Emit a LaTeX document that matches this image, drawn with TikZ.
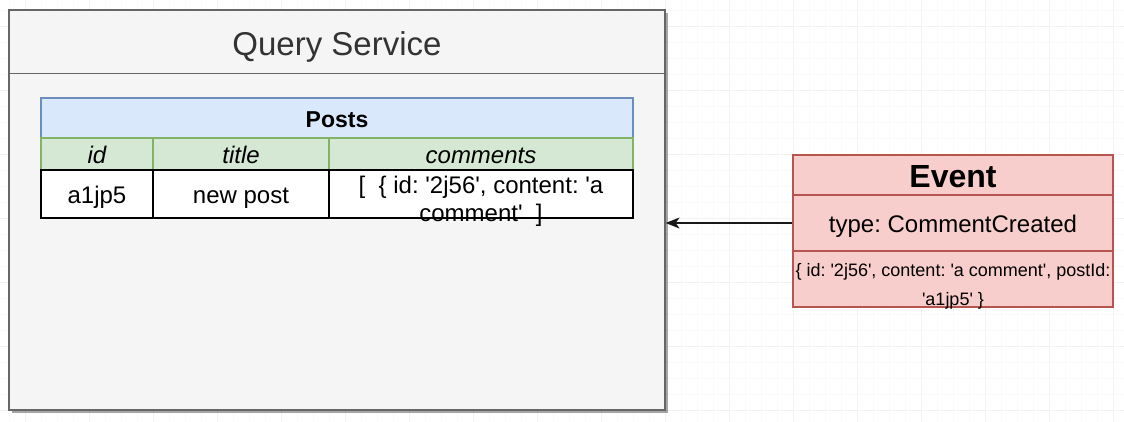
\documentclass[tikz,border=0pt]{standalone}
\usepackage{fontspec}
\setmainfont{Liberation Sans}[Ligatures=TeXOff]
\usetikzlibrary{arrows.meta,positioning,shadows}
\definecolor{svcfill}{HTML}{F5F5F5}
\definecolor{svcline}{HTML}{666666}
\definecolor{titlegray}{HTML}{333333}
\definecolor{headfill}{HTML}{DAE8FC}
\definecolor{headline}{HTML}{6C8EBF}
\definecolor{colfill}{HTML}{D5E8D4}
\definecolor{colline}{HTML}{82B366}
\definecolor{evtfill}{HTML}{F8CECC}
\definecolor{evtline}{HTML}{B85450}
\frenchspacing
\begin{document}
\begin{tikzpicture}[x=1pt,y=-1pt,
  box/.style={draw,rectangle,inner sep=0pt,line width=1.2pt},
  svc/.style={box,fill=svcfill,draw=svcline},
  tblhead/.style={box,fill=headfill,draw=headline,font=\fontsize{23}{28}\selectfont\bfseries,text height=20.7pt,text depth=2.3pt},
  colhead/.style={box,fill=colfill,draw=colline,font=\fontsize{24}{28}\selectfont\itshape,text height=21.6pt,text depth=2.4pt},
  cell/.style={box,fill=white,draw=black,font=\fontsize{24}{28}\selectfont,text height=21.6pt,text depth=2.4pt},
  evt/.style={box,fill=evtfill,draw=evtline,minimum width=320},
  arrow/.style={-{Stealth[length=14pt,width=11pt,inset=4pt]},line width=1.3pt,draw=black!90}]
\useasboundingbox (0,0) rectangle (1124,422);

% background grid
\foreach \x in {9,25,...,1124} \draw[gray!5] (\x,0) -- (\x,422);
\foreach \y in {10,26,...,422} \draw[gray!5] (0,\y) -- (1124,\y);
\foreach \x in {25,89,...,1124} \draw[gray!10] (\x,0) -- (\x,422);
\foreach \y in {26,90,...,422} \draw[gray!10] (0,\y) -- (1124,\y);

% query service
\node[svc,minimum width=656,minimum height=400,drop shadow={shadow xshift=3pt,shadow yshift=-3pt,opacity=.35,fill=black}] at (337,210) (qs) {};
\node[text=titlegray,font=\fontsize{33}{40}\selectfont,text height=29.7pt,text depth=3.3pt] at (337,42) (qstitle) {Query Service};
\draw[svcline,line width=1.2pt] ([yshift=-64pt]qs.north west) -- ([yshift=-64pt]qs.north east);

% posts table
\node[tblhead,minimum width=592,minimum height=40] at (337,118) (posts) {Posts};
\node[colhead,minimum width=112,minimum height=32] at (97,154) (hid) {id};
\node[colhead,minimum width=176,minimum height=32] at (241,154) (htitle) {title};
\node[colhead,minimum width=304,minimum height=32] at (481,154) (hcomments) {comments};
\node[cell,minimum width=112,minimum height=48] at (97,194) (vid) {a1jp5};
\node[cell,minimum width=176,minimum height=48] at (241,194) (vtitle) {new post};
\node[cell,minimum width=304,minimum height=48] at (481,194) (vcomments) {};
\node[font=\fontsize{24}{28}\selectfont,align=center,inner sep=0pt,text height=56pt,text depth=0pt] at (vcomments.center) (vcommentstext) {[\ \ \{ id: '2j56', content: 'a\\comment'\ \ ]};

% event
\node[evt,minimum height=40,font=\fontsize{32}{38}\selectfont\bfseries,text height=28.8pt,text depth=3.2pt] at (953,175) (evthead) {Event};
\node[evt,minimum height=56,font=\fontsize{24}{28}\selectfont,text height=21.6pt,text depth=2.4pt] at (953,223) (evttype) {type: CommentCreated};
\node[evt,minimum height=56,font=\fontsize{18}{29}\selectfont,align=center,text height=53pt,text depth=-2pt] at (953,279) (evtdata) {\{ id: '2j56', content: 'a comment', postId:\\'a1jp5' \}};

\draw[arrow] (evttype.west) -- (evttype.west -| qs.east);
\end{tikzpicture}
\end{document}
